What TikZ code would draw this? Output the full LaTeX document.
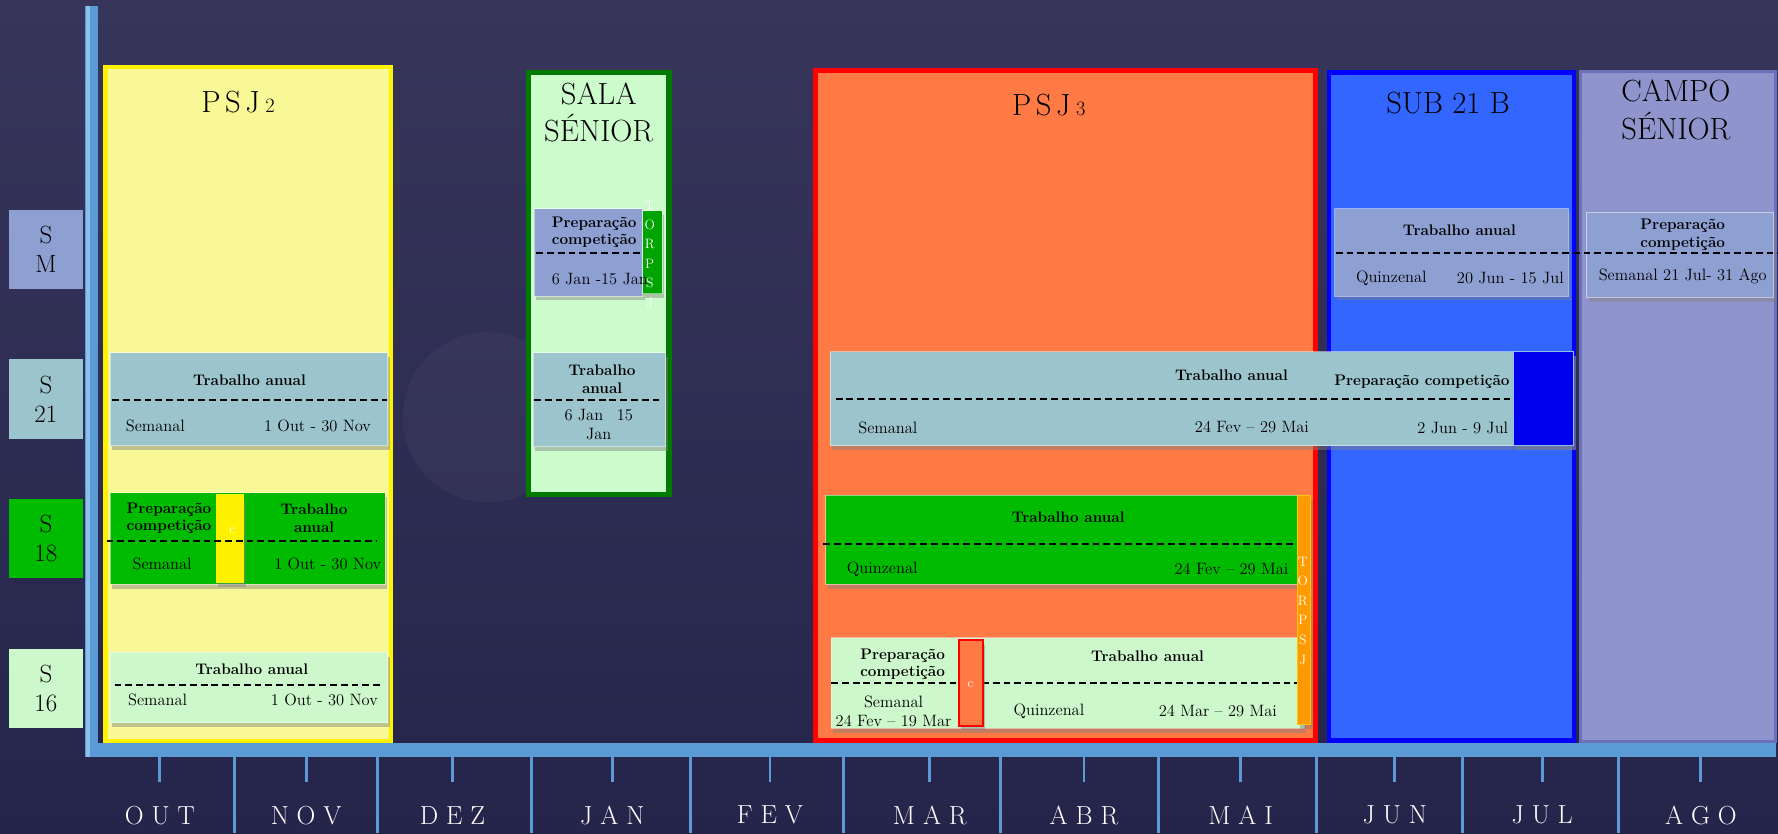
\documentclass[tikz,border=0pt]{standalone}
\usetikzlibrary{shadows}

\definecolor{bgtop}{HTML}{37355A}
\definecolor{bgbot}{HTML}{25254B}
\definecolor{axisblue}{HTML}{5B9BD5}
\definecolor{axislight}{HTML}{8CC0EA}
\definecolor{paleyellow}{HTML}{F8F896}
\definecolor{palegreen}{HTML}{CCFCCC}
\definecolor{darkgreen}{HTML}{007A00}
\definecolor{psjorange}{HTML}{FF7A45}
\definecolor{subblue}{HTML}{3366FF}
\definecolor{campofill}{HTML}{8F94CC}
\definecolor{campoline}{HTML}{6A70BA}
\definecolor{tealcard}{HTML}{9CC4CC}
\definecolor{lavcard}{HTML}{8E9FD2}
\definecolor{greencard}{HTML}{00BB00}
\definecolor{lightcard}{HTML}{CCF8CC}
\definecolor{stripgreen}{HTML}{00A400}
\definecolor{striporange}{HTML}{FF9A00}
\definecolor{squareblue}{HTML}{0000EE}

\begin{document}
\begin{tikzpicture}[x=1pt,y=-1pt,
    panel/.style={line width=4pt},
    card/.style={draw=white, draw opacity=0.5, line width=0.8pt,
      drop shadow={opacity=0.45, shadow xshift=2pt, shadow yshift=-4pt}},
    sepline/.style={line width=1.6pt, dash pattern=on 6pt off 3.5pt},
    head/.style={font=\fontsize{13.5}{15.5}\selectfont\bfseries, align=center, inner sep=0pt},
    body/.style={font=\fontsize{14.5}{17}\selectfont, align=center, inner sep=0pt},
    title/.style={font=\fontsize{27}{33}\selectfont, align=center, inner sep=0pt},
    rowlab/.style={minimum width=65pt, minimum height=70pt, inner sep=0pt,
      font=\fontsize{22}{26}\selectfont, align=center},
    month/.style={text=white, font=\fontsize{23}{26}\selectfont, inner sep=0pt},
    tick/.style={axisblue, line width=2.5pt},
    vletters/.style={text=white, font=\fontsize{12}{17.3}\selectfont, align=center, inner sep=0pt},
    cmark/.style={text=white, font=\fontsize{12}{14}\selectfont, inner sep=0pt}]
  \useasboundingbox (0,0) rectangle (1568,735);
  \shade[top color=bgtop, bottom color=bgbot] (0,0) rectangle (1568,735);
  \fill[white, opacity=0.035] (430,368) circle (75);

  % blocos de fundo
  \draw[panel, draw=yellow, fill=paleyellow] (93,59) rectangle (345,654);
  \draw[panel, line width=5pt, draw=darkgreen, fill=palegreen] (466,64) rectangle (590,436);
  \draw[panel, draw=red, fill=psjorange] (719,62) rectangle (1160,653);
  \draw[panel, draw=blue, fill=subblue] (1172,64) rectangle (1388,653);
  \draw[panel, line width=3pt, draw=campoline, fill=campofill] (1394,63) rectangle (1566,654);

  \node[title, anchor=base] (psj2) at (210,99) {P\hspace{4pt}S\hspace{4pt}J\hspace{5pt}{\fontsize{18}{20}\selectfont 2}};
  \node[title] (sala) at (528,99) {SALA\\SÉNIOR};
  \node[title, anchor=base] (psj3) at (925,102) {P\hspace{4pt}S\hspace{4pt}J\hspace{5pt}{\fontsize{18}{20}\selectfont 3}};
  \node[title, anchor=base] (sub21) at (1277,100) {SUB 21 B};
  \node[title] (campo) at (1478,97) {CAMPO\\SÉNIOR};

  % eixos
  \fill[axisblue] (75,5) rectangle (86,668);
  \fill[axisblue] (75,655) rectangle (1566,668);
  \fill[axislight] (76,5) rectangle (79,668);
  \foreach \x in {141,270,399,540,679,820,956,1094,1230,1360,1500}
    \draw[tick] (\x,668) -- (\x,690);
  \foreach \x in {207,333,469,609,744,882,1022,1161,1290,1427}
    \draw[tick] (\x,668) -- (\x,735);
  \foreach \x/\m [count=\i] in {141/O U T, 270/N O V, 399/D E Z, 540/J A N, 679/F E V,
      820/M A R, 956/A B R, 1094/M A I, 1230/J U N, 1360/J U L, 1500/A G O}
    \node[month] (mon\i) at (\x,719) {\m};

  % escaloes
  \node[rowlab, fill=lavcard] (rowSM) at (40.5,220) {S\\M};
  \node[rowlab, fill=tealcard] (rowS21) at (40.5,352) {S\\21};
  \node[rowlab, fill=greencard] (rowS18) at (40.5,475) {S\\18};
  \node[rowlab, fill=lightcard] (rowS16) at (40.5,607) {S\\16};

  % PSJ 2
  \draw[card, fill=tealcard] (97,311) rectangle (342,393);
  \node[head] (p2tr) at (220,335) {Trabalho anual};
  \draw[sepline] (99,353) -- (341,353);
  \node[body] (p2sem) at (137,376) {Semanal};
  \node[body] (p2dat) at (280,376) {1 Out - 30 Nov};

  \draw[card, fill=greencard] (97,434.5) rectangle (339.5,515);
  \draw[card, fill=yellow, draw=none] (190.5,436) rectangle (215,514);
  \node[head] (p2prep18) at (149,457) {Preparação\\competição};
  \node[cmark] (p2c18) at (205,468) {c};
  \node[head] (p2tr18) at (277,457) {Trabalho\\anual};
  \draw[sepline] (94,477) -- (332,477);
  \node[body] (p2sem18) at (143,497) {Semanal};
  \node[body] (p2dat18) at (289,497) {1 Out - 30 Nov};

  \draw[card, fill=lightcard] (97,575) rectangle (342,637.5);
  \node[head] (p2tr16) at (222,590) {Trabalho anual};
  \draw[sepline] (101,604) -- (338,604);
  \node[body] (p2sem16) at (139,617) {Semanal};
  \node[body] (p2dat16) at (286,617) {1 Out - 30 Nov};

  % SALA SENIOR
  \draw[card, fill=lavcard] (471,184) rectangle (567,261);
  \draw[card, fill=stripgreen] (567,186) rectangle (584,259);
  \node[vletters] (salator) at (573,224) {T\\O\\R\\P\\S\\J};
  \node[head] (saprep) at (524,205) {Preparação\\competição};
  \draw[sepline] (473,223) -- (564,223);
  \node[body] (sadat) at (529,246) {6 Jan -15 Jan};

  \draw[card, fill=tealcard] (470,311) rectangle (587,394);
  \node[head] (satr) at (531,334.5) {Trabalho\\anual};
  \draw[sepline] (471,353) -- (585,353);
  \node[body] (sadat21) at (528,374.5) {6 Jan\hspace{12pt}15\\Jan};

  % PSJ 3
  \draw[card, fill=tealcard] (732,310) rectangle (1388,393);
  \draw[card, fill=squareblue, draw=axislight, draw opacity=1] (1335,310) rectangle (1388,393);
  \node[head] (p3tr) at (1086,331) {Trabalho anual};
  \node[head] (p3prep) at (1254,337) {Preparação competição};
  \draw[sepline] (737,352) -- (1334,352);
  \node[body] (p3sem) at (783,377) {Semanal};
  \node[body] (p3dat) at (1104,377) {24 Fev – 29 Mai};
  \node[body] (p3jul) at (1290,377) {2 Jun - 9 Jul};

  \draw[card, fill=greencard] (728,436.5) rectangle (1144,515);
  \node[head] (p3tr18) at (942,456.5) {Trabalho anual};
  \draw[sepline] (726,480) -- (1144,480);
  \node[body] (p3quin18) at (778,502) {Quinzenal};
  \node[body] (p3dat18) at (1086,502) {24 Fev – 29 Mai};

  \draw[card, fill=lightcard] (733,562.5) rectangle (1150,642);
  \draw[sepline] (733,602.5) -- (1144,602.5);
  \draw[card, fill=psjorange, draw=red, draw opacity=1, line width=2pt] (845.5,564.5) rectangle (867,640);
  \node[head] (p3prep16) at (796,586) {Preparação\\competição};
  \node[cmark] (p3c16) at (856,604) {c};
  \node[head] (p3tr16) at (1012,579) {Trabalho anual};
  \node[body] (p3sem16) at (788,627.5) {Semanal\\24 Fev – 19 Mar};
  \node[body] (p3quin16) at (925,627) {Quinzenal};
  \node[body] (p3dat16) at (1074,627) {24 Mar – 29 Mai};

  \draw[card, fill=striporange, draw=yellow!60!orange, draw opacity=1] (1144,436.5) rectangle (1156,639);
  \node[vletters] (psjtor) at (1149,538.5) {T\\O\\R\\P\\S\\J};

  % SUB 21 B e CAMPO SENIOR
  \draw[card, fill=lavcard] (1177,184) rectangle (1383,261);
  \node[head] (sbtr) at (1287,203) {Trabalho anual};
  \node[body] (sbquin) at (1227,245) {Quinzenal};
  \node[body] (sbdat) at (1332,245) {20 Jun - 15 Jul};

  \draw[card, fill=lavcard] (1399,187) rectangle (1564,262);
  \node[head] (caprep) at (1484,207) {Preparação\\competição};
  \node[body] (cadat) at (1484,244) {Semanal 21 Jul- 31 Ago};
  \draw[sepline] (1178,223) -- (1568,223);
\end{tikzpicture}
\end{document}
